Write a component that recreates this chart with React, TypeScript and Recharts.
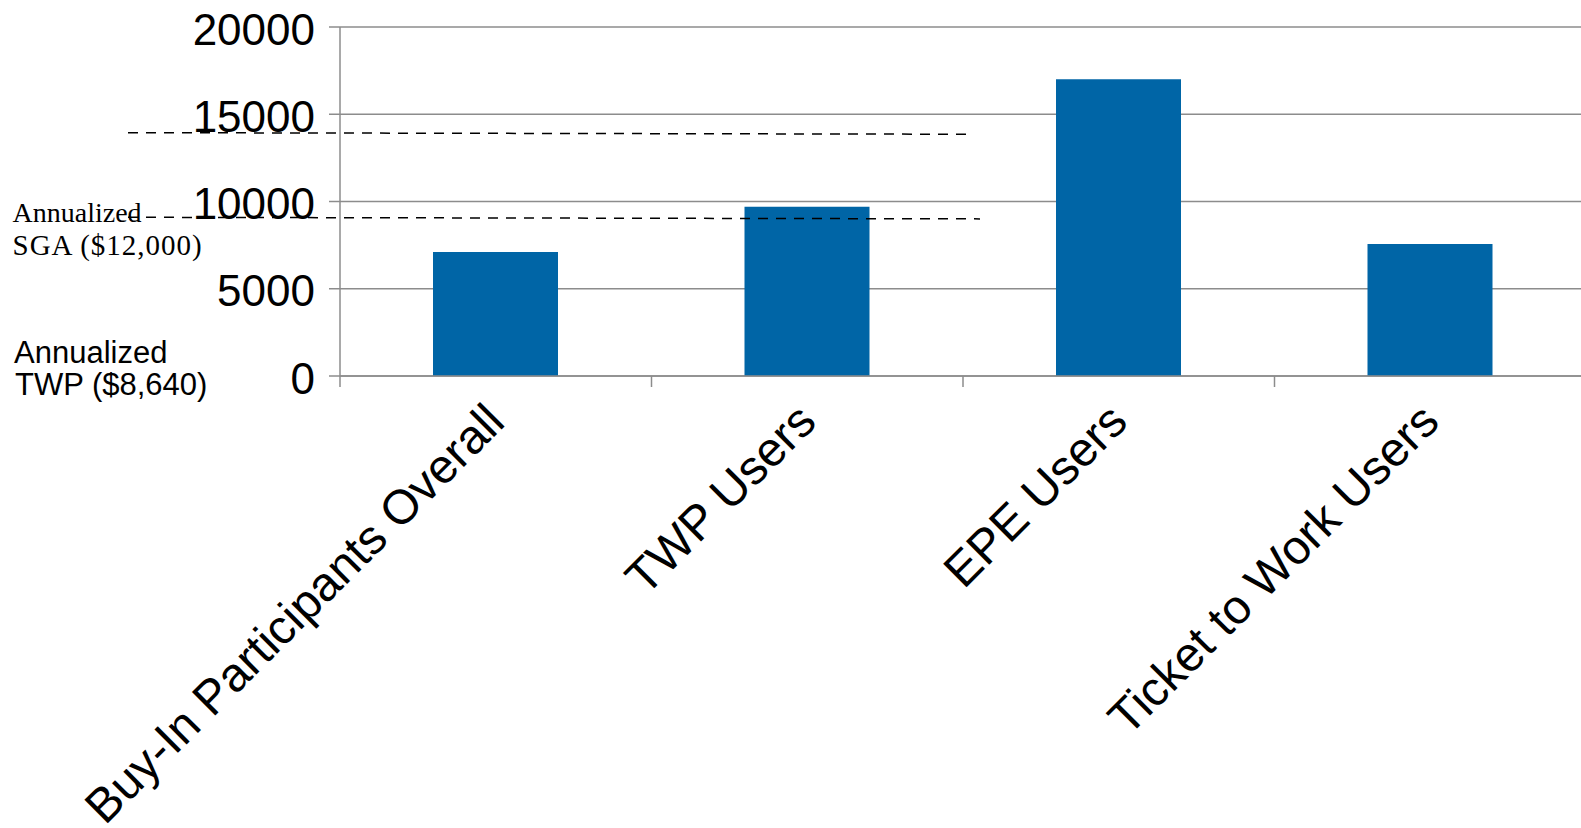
import {
  BarChart,
  Bar,
  XAxis,
  YAxis,
  CartesianGrid,
  ReferenceLine,
  Text,
} from "recharts";

const categories = [
  "Buy-In Participants Overall",
  "TWP Users",
  "EPE Users",
  "Ticket to Work Users",
];
const earnings = [7100, 9700, 17000, 7570];
const yTicks = [0, 5000, 10000, 15000, 20000];

// dashed threshold lines
const sgaLine = 13900;
const twpLine = 9050;

const data = categories.map((name, i) => ({ name, earnings: earnings[i] }));

const CHART_W = 1600;
const CHART_H = 828;
const AXIS_W = 340;
const RIGHT = 14;
const BAND = (CHART_W - AXIS_W - RIGHT) / categories.length;
const GRID = "#8c8c8c";
const SANS = "'Liberation Sans', Arial, sans-serif";
const SERIF = "'Liberation Serif', 'Times New Roman', serif";

// ticks sit on the band edges, labels run up at 45 degrees
function CategoryTick({ x, y, payload, index }: any) {
  const half = BAND / 2;
  return (
    <g>
      {index === 0 && (
        <line x1={x - half} x2={x - half} y1={y} y2={y + 11} stroke={GRID} strokeWidth={1.5} />
      )}
      <line x1={x + half} x2={x + half} y1={y} y2={y + 11} stroke={GRID} strokeWidth={1.5} />
      <Text
        x={x - 13}
        y={y + 24}
        angle={-45}
        textAnchor="end"
        verticalAnchor="start"
        fontSize={48}
        fontFamily={SANS}
        fill="#000"
      >
        {payload.value}
      </Text>
    </g>
  );
}

const dashed = (left: number, right: number) => (props: any) =>
  (
    <line
      x1={left}
      x2={right}
      y1={props.y1 - 0.8}
      y2={props.y2 + 0.8}
      stroke="#000"
      strokeWidth={1.5}
      strokeDasharray="10 8"
    />
  );

export default function App() {
  return (
    <div
      style={{
        position: "fixed",
        left: 0,
        top: 0,
        width: 1581,
        height: 828,
        overflow: "hidden",
        background: "#fff",
      }}
    >
      <BarChart
        width={CHART_W}
        height={CHART_H}
        data={data}
        margin={{ top: 27, right: RIGHT, left: 0, bottom: 0 }}
        barSize={125}
      >
        <CartesianGrid vertical={false} stroke={GRID} strokeWidth={1.5} />
        <XAxis
          dataKey="name"
          height={452}
          interval={0}
          tickSize={0}
          tickMargin={0}
          tickLine={false}
          axisLine={{ stroke: GRID, strokeWidth: 1.5 }}
          tick={<CategoryTick />}
        />
        <YAxis
          width={AXIS_W}
          domain={[0, 20000]}
          ticks={yTicks}
          interval={0}
          tickSize={11}
          tickMargin={14}
          tickLine={{ stroke: GRID, strokeWidth: 1.5 }}
          axisLine={{ stroke: GRID, strokeWidth: 1.5 }}
          tick={{ fontSize: 44, fontFamily: SANS, fill: "#000", dy: 2 }}
        />
        <Bar dataKey="earnings" fill="#0065a6" isAnimationActive={false} />
        <ReferenceLine y={sgaLine} shape={dashed(128, 970)} />
        <ReferenceLine y={twpLine} shape={dashed(128, 980)} />
      </BarChart>
      <svg
        width={1581}
        height={828}
        style={{ position: "absolute", left: 0, top: 0, pointerEvents: "none" }}
      >
        <text x={12.5} y={222} fontSize={28} fontFamily={SERIF} fill="#000">
          Annualized
        </text>
        <text
          x={12.5}
          y={255}
          fontSize={29}
          fontFamily={SERIF}
          fill="#000"
          letterSpacing={1}
        >
          SGA ($12,000)
        </text>
        <text x={14} y={363} fontSize={31} fontFamily={SANS} fill="#000">
          Annualized
        </text>
        <text x={15} y={394.5} fontSize={31} fontFamily={SANS} fill="#000">
          TWP ($8,640)
        </text>
      </svg>
    </div>
  );
}
